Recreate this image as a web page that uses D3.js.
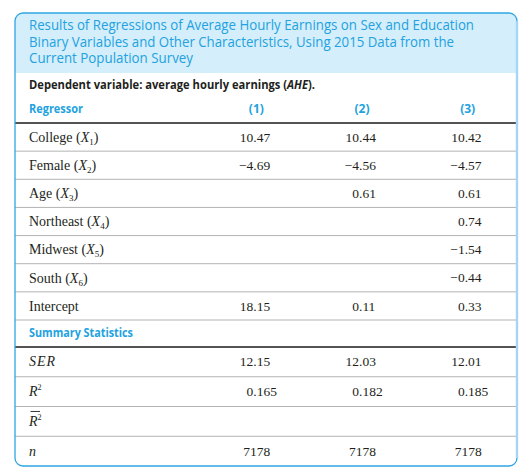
<!DOCTYPE html>
<html>
<head>
<meta charset="utf-8">
<script src="https://cdn.jsdelivr.net/npm/d3@7"></script>
<style>
html,body{margin:0;padding:0;background:#fff;}
svg{display:block;}
</style>
</head>
<body>
<svg id="chart" width="530" height="471"></svg>
<script>
// ---- Data ----
const titleLines = [
  "Results of Regressions of Average Hourly Earnings on Sex and Education",
  "Binary Variables and Other Characteristics, Using 2015 Data from the",
  "Current Population Survey"
];
const columns = ["(1)", "(2)", "(3)"];
const regressors = ["College", "Female", "Age", "Northeast", "Midwest", "South", "Intercept"];
const subscripts = ["1", "2", "3", "4", "5", "6", null];
const model1 = [10.47, -4.69, null, null, null, null, 18.15];
const model2 = [10.44, -4.56, 0.61, null, null, null, 0.11];
const model3 = [10.42, -4.57, 0.61, 0.74, -1.54, -0.44, 0.33];
const summaryStats = ["SER", "R2", "Rbar2", "n"];
const serValues = [12.15, 12.03, 12.01];
const r2Values = [0.165, 0.182, 0.185];
const rbar2Values = [null, null, null];
const nValues = [7178, 7178, 7178];

// ---- Layout ----
const svg = d3.select("#chart");
const box = {x: 15, y: 13, w: 502, h: 453, r: 8};
const blue = "#22a2e0";
const textCol = "#231f20";
const sans = "'Open Sans', Lato, sans-serif";
const serif = "'Liberation Serif', 'Times New Roman', serif";
const labelX = 29;

const xCol = d3.scaleBand().domain(columns).range([204, 521]);
const colCenter = c => xCol(c) + xCol.bandwidth() / 2;
const yBody = d3.scaleBand().domain(regressors).range([123, 320]);
const ySum = d3.scaleBand().domain(summaryStats).range([347, 466]);

// header background (rounded top)
const defs = svg.append("defs");
defs.append("clipPath").attr("id", "boxclip")
  .append("rect").attr("x", box.x).attr("y", box.y).attr("width", box.w).attr("height", box.h).attr("rx", box.r);
svg.append("rect").attr("clip-path", "url(#boxclip)")
  .attr("x", box.x).attr("y", box.y).attr("width", box.w).attr("height", 60)
  .attr("fill", "#d4eefb");

// Title
const title = svg.append("g");
const titleWidths = [445, 425, 164];
titleLines.forEach((t, i) => {
  title.append("text")
    .attr("x", labelX).attr("y", 30 + i * 16.6)
    .attr("font-family", sans).attr("font-size", 14).attr("font-weight", 500).attr("fill", blue)
    .attr("textLength", titleWidths[i]).attr("lengthAdjust", "spacingAndGlyphs")
    .text(t);
});

// Dependent variable line
const dep = svg.append("text").attr("x", labelX).attr("y", 89)
  .attr("font-family", sans).attr("font-size", 12).attr("font-weight", 700).attr("fill", textCol)
  .attr("textLength", 286).attr("lengthAdjust", "spacingAndGlyphs");
dep.append("tspan").text("Dependent variable: average hourly earnings (");
dep.append("tspan").attr("font-style", "italic").text("AHE");
dep.append("tspan").text(").");

// Column header row
svg.append("text").attr("x", labelX).attr("y", 113)
  .attr("font-family", sans).attr("font-size", 12).attr("font-weight", 700).attr("fill", blue)
  .attr("textLength", 54).attr("lengthAdjust", "spacingAndGlyphs")
  .text("Regressor");
svg.selectAll("text.colhead").data(columns).join("text").attr("class", "colhead")
  .attr("x", d => colCenter(d) - 0.5).attr("y", 113).attr("text-anchor", "middle")
  .attr("font-family", sans).attr("font-size", 12).attr("font-weight", 700).attr("fill", blue)
  .text(d => d);

// Rule lines
const hline = (y, color, w) => svg.append("line")
  .attr("x1", box.x).attr("x2", box.x + box.w).attr("y1", y).attr("y2", y)
  .attr("stroke", color).attr("stroke-width", w);
hline(yBody.range()[0], "#1a1a1a", 1.3);
regressors.forEach((r, i) => { hline(yBody(r) + yBody.bandwidth(), "#b3b3b3", 1); });
hline(ySum.range()[0], "#1a1a1a", 1.3);
summaryStats.slice(0, -1).forEach(s => { hline(ySum(s) + ySum.bandwidth(), "#b3b3b3", 1); });

// Regressor labels
const bodyFont = 13.5;
const labelFont = 14;
regressors.forEach((r, i) => {
  const t = svg.append("text").attr("x", labelX).attr("y", yBody(r) + yBody.bandwidth() / 2 + 4.8)
    .attr("font-family", serif).attr("font-size", labelFont).attr("fill", textCol);
  t.append("tspan").text(r + (subscripts[i] ? " (" : ""));
  if (subscripts[i]) {
    t.append("tspan").attr("font-style", "italic").text("X");
    t.append("tspan").attr("font-size", 9).attr("dy", 3).text(subscripts[i]);
    t.append("tspan").attr("dy", -3).text(")");
  }
});

// Decimal aligned number drawing
function drawNum(v, col, y, digits) {
  if (v == null) return;
  const cx = colCenter(col);
  let s = digits === 0 ? String(v) : d3.format("." + digits + "f")(v);
  if (s.indexOf(".") < 0) {
    svg.append("text").attr("x", cx).attr("y", y).attr("text-anchor", "middle")
      .attr("font-family", serif).attr("font-size", bodyFont).attr("fill", textCol).text(s);
    return;
  }
  const [a, b] = s.split(".");
  const dx = cx - 3.5;
  svg.append("text").attr("x", dx).attr("y", y).attr("text-anchor", "end")
    .attr("font-family", serif).attr("font-size", bodyFont).attr("fill", textCol).text(a);
  svg.append("text").attr("x", dx).attr("y", y).attr("text-anchor", "start")
    .attr("font-family", serif).attr("font-size", bodyFont).attr("fill", textCol).text("." + b);
}

const models = [model1, model2, model3];
regressors.forEach((r, i) => {
  const y = yBody(r) + yBody.bandwidth() / 2 + 4.6;
  columns.forEach((c, j) => drawNum(models[j][i], c, y, 2));
});

// Summary Statistics header
svg.append("text").attr("x", labelX).attr("y", 337)
  .attr("font-family", sans).attr("font-size", 12).attr("font-weight", 700).attr("fill", blue)
  .attr("textLength", 104).attr("lengthAdjust", "spacingAndGlyphs")
  .text("Summary Statistics");

// Summary labels
const sy = s => ySum(s) + ySum.bandwidth() / 2 + 4.6;
svg.append("text").attr("x", labelX).attr("y", sy("SER"))
  .attr("font-family", serif).attr("font-size", labelFont).attr("font-style", "italic").attr("fill", textCol)
  .attr("letter-spacing", 1).text("SER");
const r2 = svg.append("text").attr("x", labelX).attr("y", sy("R2"))
  .attr("font-family", serif).attr("font-size", labelFont).attr("fill", textCol);
r2.append("tspan").attr("font-style", "italic").text("R");
r2.append("tspan").attr("font-size", 8).attr("dy", -6).text("2");
const rb = svg.append("text").attr("x", labelX).attr("y", sy("Rbar2"))
  .attr("font-family", serif).attr("font-size", labelFont).attr("fill", textCol);
rb.append("tspan").attr("font-style", "italic").text("R");
rb.append("tspan").attr("font-size", 8).attr("dy", -6).text("2");
svg.append("line").attr("x1", labelX + 1.5).attr("x2", labelX + 11)
  .attr("y1", sy("Rbar2") - 14.5).attr("y2", sy("Rbar2") - 14.5)
  .attr("stroke", textCol).attr("stroke-width", 0.9);
svg.append("text").attr("x", labelX).attr("y", sy("n"))
  .attr("font-family", serif).attr("font-size", labelFont).attr("font-style", "italic").attr("fill", textCol)
  .text("n");

columns.forEach((c, j) => {
  drawNum(serValues[j], c, sy("SER"), 2);
  drawNum(r2Values[j], c, sy("R2"), 3);
  drawNum(rbar2Values[j], c, sy("Rbar2"), 3);
  drawNum(nValues[j], c, sy("n"), 0);
});

// Box border
svg.append("rect").attr("x", box.x).attr("y", box.y).attr("width", box.w).attr("height", box.h)
  .attr("rx", box.r).attr("fill", "none").attr("stroke", "#2ea6e2").attr("stroke-width", 1.3);
svg.append("line").attr("x1", box.x + box.w).attr("x2", box.x + box.w)
  .attr("y1", box.y + box.r).attr("y2", box.y + box.h - box.r)
  .attr("stroke", "#a6d7f2").attr("stroke-width", 2.4);
</script>
</body>
</html>
